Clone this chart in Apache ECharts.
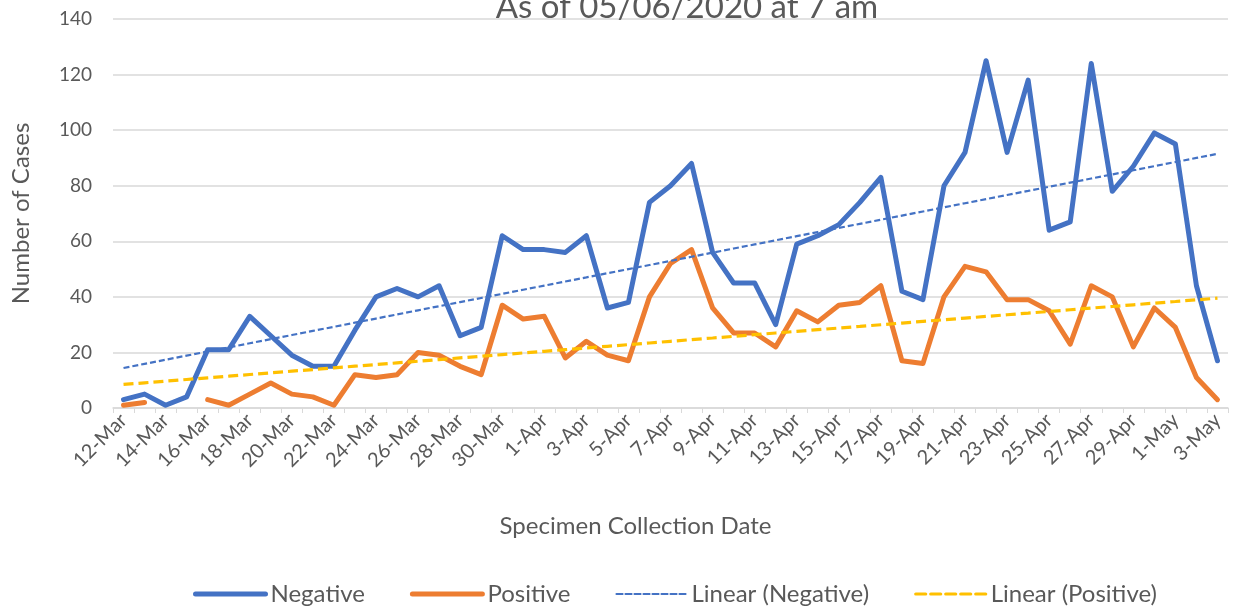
<!DOCTYPE html>
<html>
<head>
<meta charset="utf-8">
<script src="https://cdn.jsdelivr.net/npm/echarts@6/dist/echarts.min.js"></script>
<style>
  html, body { margin: 0; padding: 0; background: #fff; }
  #chart { width: 1233px; height: 609px; }
</style>
</head>
<body>
<div id="chart"></div>
<script>
const dates = [
  '12-Mar', '13-Mar', '14-Mar', '15-Mar', '16-Mar', '17-Mar', '18-Mar', '19-Mar', '20-Mar', '21-Mar',
  '22-Mar', '23-Mar', '24-Mar', '25-Mar', '26-Mar', '27-Mar', '28-Mar', '29-Mar', '30-Mar', '31-Mar',
  '1-Apr', '2-Apr', '3-Apr', '4-Apr', '5-Apr', '6-Apr', '7-Apr', '8-Apr', '9-Apr', '10-Apr',
  '11-Apr', '12-Apr', '13-Apr', '14-Apr', '15-Apr', '16-Apr', '17-Apr', '18-Apr', '19-Apr', '20-Apr',
  '21-Apr', '22-Apr', '23-Apr', '24-Apr', '25-Apr', '26-Apr', '27-Apr', '28-Apr', '29-Apr', '30-Apr',
  '1-May', '2-May', '3-May'
];

const negative = [
  3, 5, 1, 4, 21, 21, 33, 26, 19, 15,
  15, 28, 40, 43, 40, 44, 26, 29, 62, 57,
  57, 56, 62, 36, 38, 74, 80, 88, 56, 45,
  45, 30, 59, 62, 66, 74, 83, 42, 39, 80,
  92, 125, 92, 118, 64, 67, 124, 78, 87, 99,
  95, 44, 17
];

const positive = [
  1, 2, null, null, 3, 1, 5, 9, 5, 4,
  1, 12, 11, 12, 20, 19, 15, 12, 37, 32,
  33, 18, 24, 19, 17, 40, 52, 57, 36, 27,
  27, 22, 35, 31, 37, 38, 44, 17, 16, 40,
  51, 49, 39, 39, 35, 23, 44, 40, 22, 36,
  29, 11, 3
];

const yTicks = [0, 20, 40, 60, 80, 100, 120, 140];

// least squares trend, like the spreadsheet's linear trendline
function linearTrend(values) {
  let n = 0, sx = 0, sy = 0, sxx = 0, sxy = 0;
  values.forEach(function(v, i) {
    if (v == null) return;
    const x = i + 1;
    n++; sx += x; sy += v; sxx += x * x; sxy += x * v;
  });
  const slope = (n * sxy - sx * sy) / (n * sxx - sx * sx);
  const icpt = (sy - slope * sx) / n;
  return values.map(function(v, i) { return +(icpt + slope * (i + 1)).toFixed(2); });
}

const font = 'Lato, "Open Sans", sans-serif';
const grey = '#595959';

const chart = echarts.init(document.getElementById('chart'));

chart.setOption({
  animation: false,
  textStyle: { fontFamily: font },
  title: {
    text: 'As of 05/06/2020 at 7 am',
    left: 682,
    textAlign: 'center',
    top: -14,
    textStyle: { fontFamily: font, fontSize: 33, fontWeight: 'normal', color: grey }
  },
  grid: { left: 113, right: 5, top: 19, bottom: 201 },
  legend: {
    bottom: -2,
    left: 188,
    itemWidth: 70,
    itemHeight: 6,
    itemGap: 45,
    lineStyle: { width: 'inherit', cap: 'round' },
    itemStyle: { opacity: 0 },
    textStyle: { fontFamily: font, fontSize: 24, color: grey },
    data: ['Negative', 'Positive', 'Linear (Negative)', 'Linear (Positive)']
  },
  xAxis: {
    type: 'category',
    data: dates,
    boundaryGap: true,
    name: 'Specimen Collection Date',
    nameLocation: 'middle',
    nameGap: 106,
    nameTextStyle: { fontFamily: font, fontSize: 24, color: grey, padding: [0, 70, 0, 0] },
    axisLine: { lineStyle: { color: '#d9d9d9', width: 1.5 } },
    axisTick: { show: true, interval: 0, length: 5, lineStyle: { color: '#d9d9d9' } },
    axisLabel: { interval: 1, rotate: 45, fontSize: 20, color: grey, margin: 9 }
  },
  yAxis: {
    type: 'value',
    min: yTicks[0],
    max: yTicks[yTicks.length - 1],
    interval: 20,
    name: 'Number of Cases',
    nameLocation: 'middle',
    nameGap: 80,
    nameTextStyle: { fontFamily: font, fontSize: 24, color: grey },
    axisLine: { show: false },
    axisTick: { show: false },
    axisLabel: { fontSize: 19, color: grey, margin: 21 },
    splitLine: { lineStyle: { color: '#d9d9d9', width: 1.5 } }
  },
  series: [
    {
      name: 'Negative',
      type: 'line',
      data: negative,
      symbol: 'none',
      itemStyle: { color: '#4472C4' },
      lineStyle: { color: '#4472C4', width: 5, join: 'round', cap: 'round' }
    },
    {
      name: 'Positive',
      type: 'line',
      data: positive,
      symbol: 'none',
      connectNulls: false,
      itemStyle: { color: '#ED7D31' },
      lineStyle: { color: '#ED7D31', width: 5, join: 'round', cap: 'round' }
    },
    {
      name: 'Linear (Negative)',
      type: 'line',
      data: linearTrend(negative),
      symbol: 'none',
      itemStyle: { color: '#4472C4' },
      lineStyle: { color: '#4472C4', width: 2.2, type: [6, 3] }
    },
    {
      name: 'Linear (Positive)',
      type: 'line',
      data: linearTrend(positive),
      symbol: 'none',
      itemStyle: { color: '#FFC000' },
      lineStyle: { color: '#FFC000', width: 3.2, type: [10, 5] }
    }
  ]
});
</script>
</body>
</html>
